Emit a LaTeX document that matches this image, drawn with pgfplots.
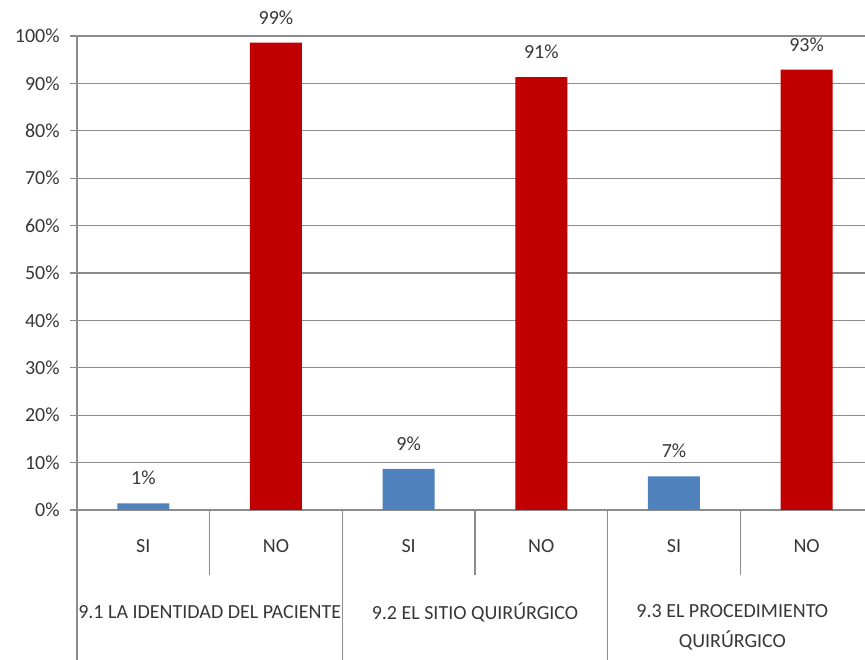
\documentclass[border=0pt]{standalone}
\usepackage{fontspec}
\setmainfont{Carlito}
\usepackage{pgfplots}
\pgfplotsset{compat=1.18}
\definecolor{barblue}{RGB}{79,129,189}
\definecolor{barred}{RGB}{192,0,0}
\definecolor{gridgray}{RGB}{140,140,140}
\definecolor{txt}{RGB}{55,55,55}
\begin{document}
\begin{tikzpicture}
\path[use as bounding box] (-57.75pt,-112.5pt) rectangle (591pt,382.5pt);
\begin{axis}[
  at={(0,0)}, anchor=south west,
  scale only axis, width=591pt, height=355.5pt,
  xmin=-0.5, xmax=5.44, ymin=0, ymax=100,
  axis line style={draw=none},
  clip=false,
  /pgf/number format/assume math mode=true,
  ytick={0,10,...,100},
  yticklabel={\pgfmathprintnumber{\tick}\%},
  yticklabel style={font=\fontsize{15}{18}\selectfont, text=txt, xshift=-4.5pt},
  ymajorgrids, grid style={gridgray, line width=0.8pt},
  tick align=outside, major tick length=5pt,
  ytick style={gridgray, line width=0.8pt},
  xtick={0,1,2,3,4,5},
  xticklabels={SI,NO,SI,NO,SI,NO},
  xtick style={draw=none},
  xticklabel style={font=\fontsize{15}{18}\selectfont, text=txt, anchor=center, yshift=-22pt},
  nodes near coords={\pgfmathprintnumber[fixed,precision=0]{\pgfplotspointmeta}\%},
  every node near coord/.append style={font=\fontsize{15}{18}\selectfont, text=txt, anchor=south, inner sep=0pt, yshift=13.5pt},
]
\addplot[ybar, bar width=39pt, bar shift=0pt, fill=barblue, draw=none] coordinates {(0,1.4) (2,8.7) (4,7.1)};
\addplot[ybar, bar width=39pt, bar shift=0pt, fill=barred, draw=none] coordinates {(1,98.6) (3,91.3) (5,92.9)};
\draw[gridgray, line width=0.8pt] (axis cs:-0.5,100) -- (axis cs:-0.5,0) -- ++(0pt,-112.5pt);
\draw[gridgray, line width=0.8pt] (axis cs:1.5,0) -- ++(0pt,-112.5pt);
\draw[gridgray, line width=0.8pt] (axis cs:3.5,0) -- ++(0pt,-112.5pt);
\draw[gridgray, line width=0.8pt] (axis cs:0.5,0) -- ++(0pt,-48.75pt);
\draw[gridgray, line width=0.8pt] (axis cs:2.5,0) -- ++(0pt,-48.75pt);
\draw[gridgray, line width=0.8pt] (axis cs:4.5,0) -- ++(0pt,-48.75pt);
\node[text=txt, font=\fontsize{15}{18}\selectfont] at ([yshift=-76.5pt]axis cs:0.5,0) {9.1 LA IDENTIDAD DEL PACIENTE};
\node[text=txt, font=\fontsize{15}{18}\selectfont] at ([yshift=-76.5pt]axis cs:2.5,0) {9.2 EL SITIO QUIRÚRGICO};
\node[text=txt, font=\fontsize{15}{22.5}\selectfont, align=center] at ([yshift=-87.75pt]axis cs:4.44,0) {9.3 EL PROCEDIMIENTO\\QUIRÚRGICO};
\end{axis}
\end{tikzpicture}
\end{document}
